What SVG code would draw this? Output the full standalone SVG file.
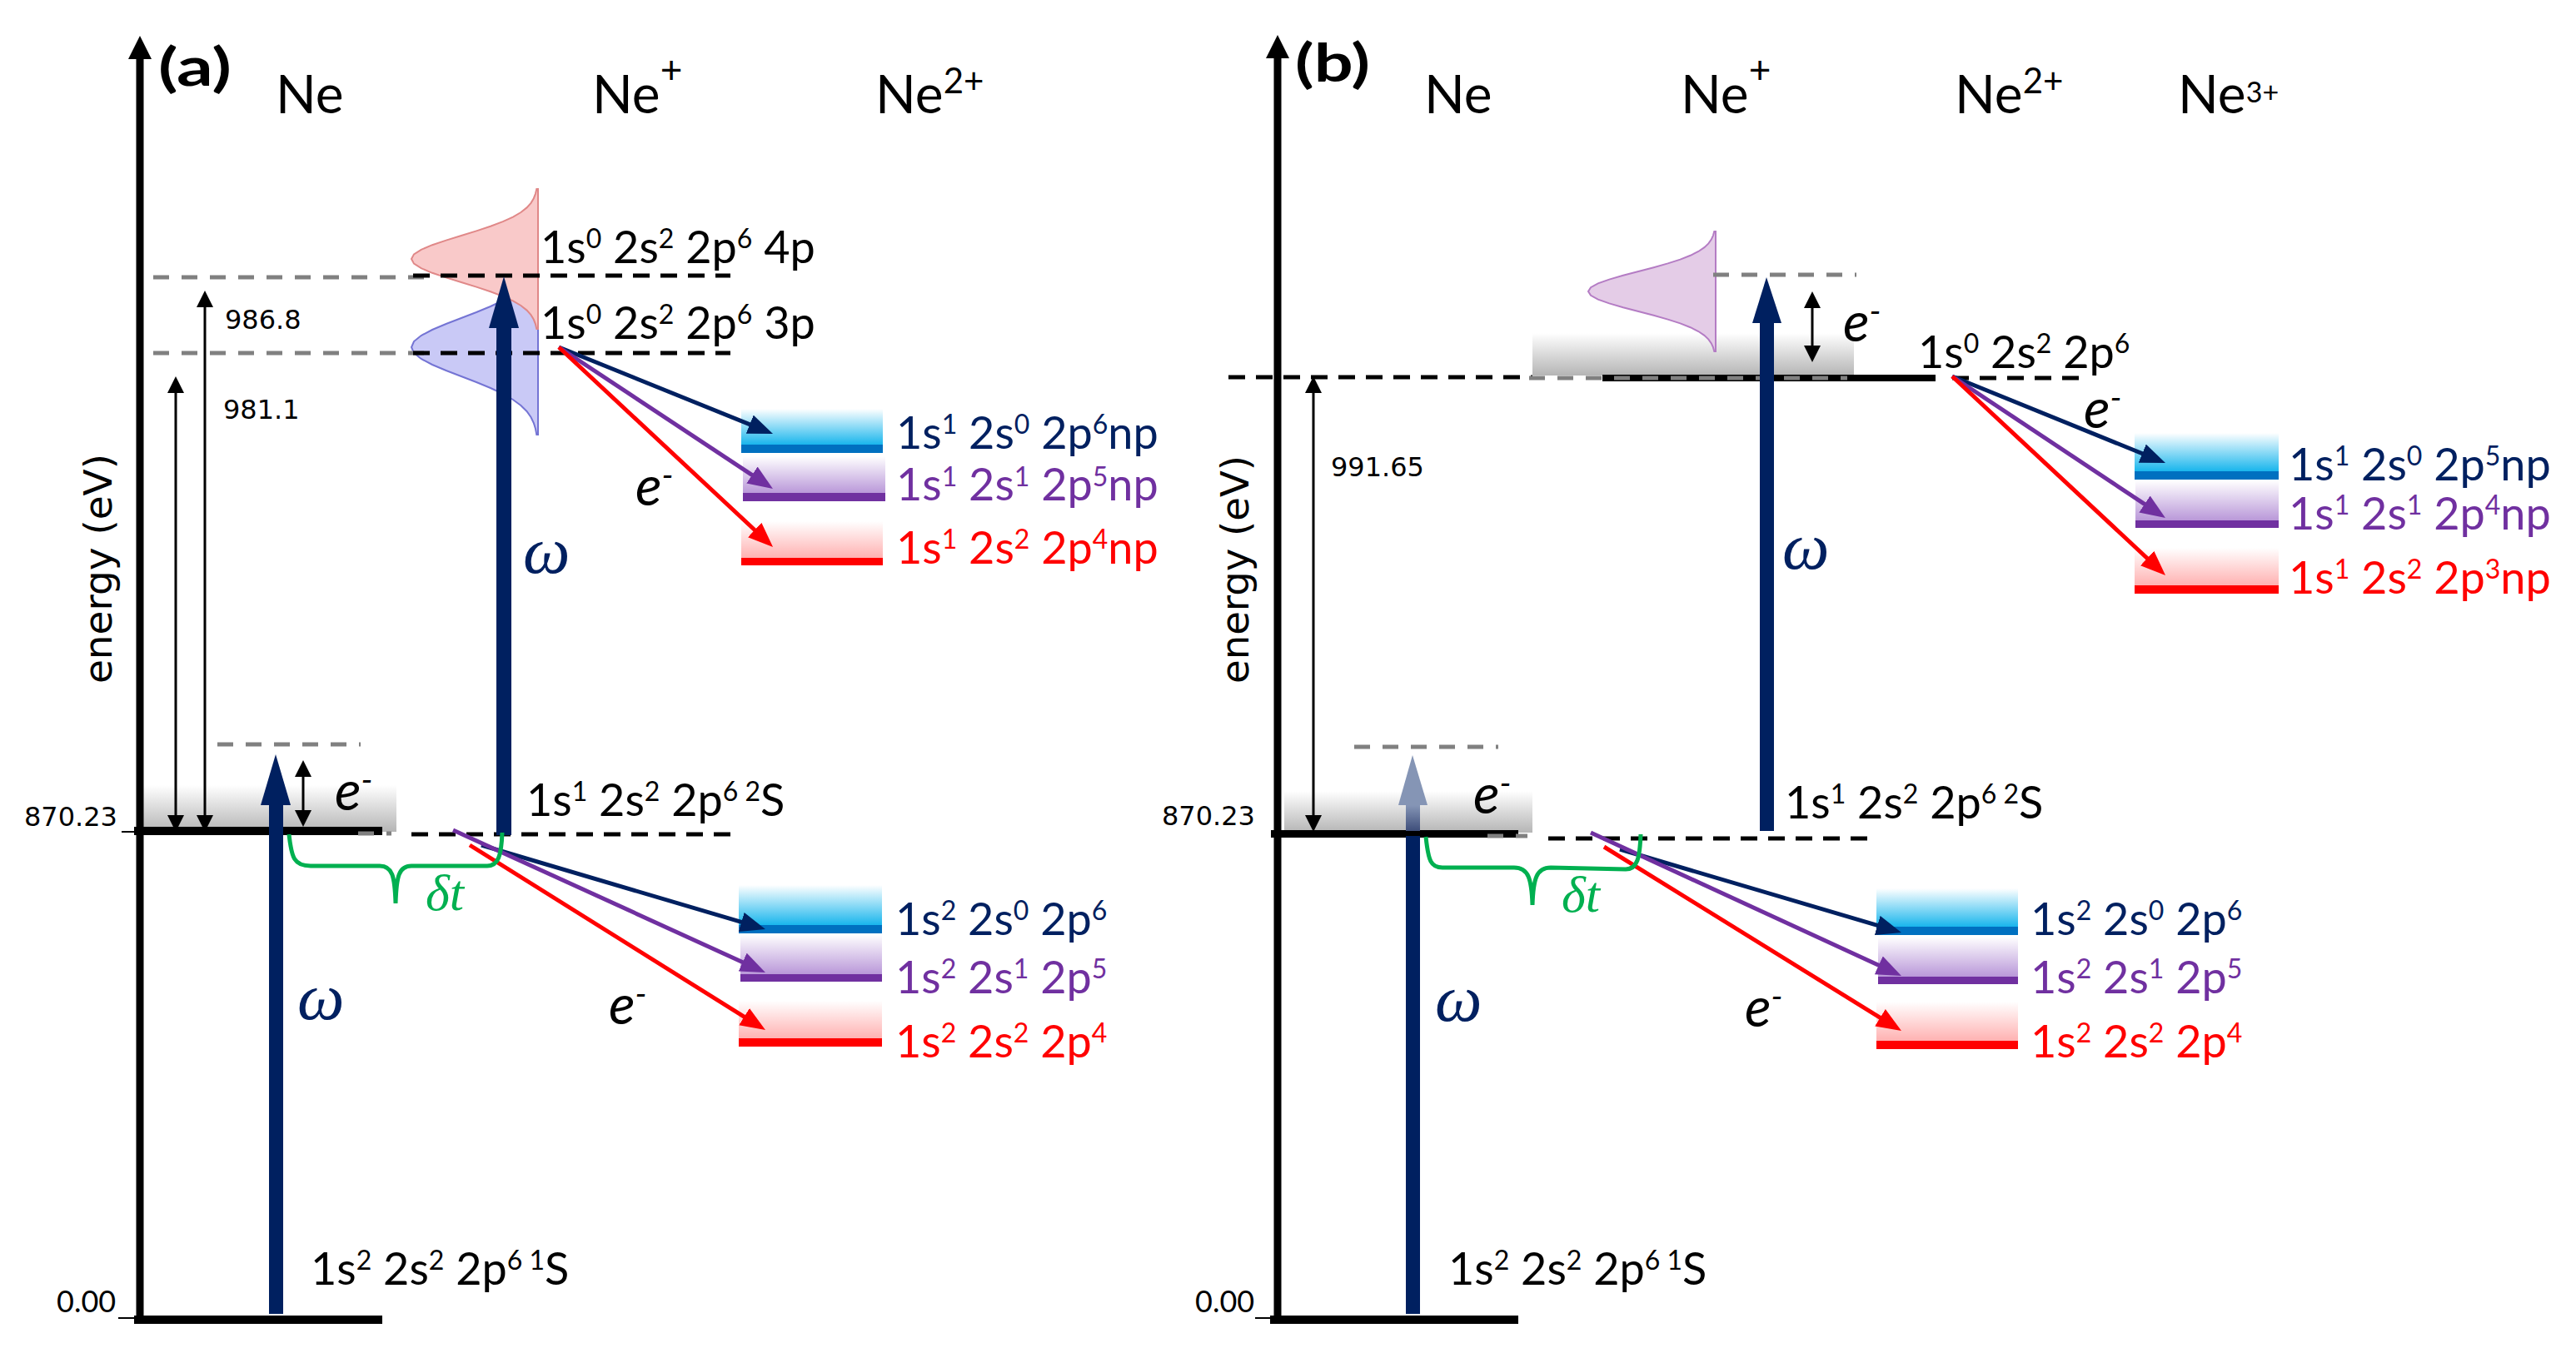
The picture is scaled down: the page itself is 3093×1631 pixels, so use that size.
<svg xmlns="http://www.w3.org/2000/svg" width="3093" height="1631" viewBox="0 0 3093 1631">
<defs>
<style>
.lbl{font-family:Lato,"Open Sans",sans-serif;font-size:54px;fill:#000}
.sp{font-size:32px}
.hdr{font-family:Lato,"Open Sans",sans-serif;font-size:64px;fill:#000}
.num{font-family:"DejaVu Sans",sans-serif;font-size:32px;fill:#000}
.zero{font-family:Lato,sans-serif;font-size:36px;fill:#000}
.ax{font-family:"DejaVu Sans",sans-serif;font-size:46px;fill:#000}
.el{font-family:Lato,sans-serif;font-style:italic;font-size:66px;fill:#000}
.om{font-family:"Liberation Serif",serif;font-style:italic;font-size:80px;fill:#002060}
.dt{font-family:"Liberation Serif",serif;font-style:italic;font-size:62px;fill:#00B050}
.navy{fill:#002060}.pur{fill:#7030A0}.red{fill:#FF0000}
.kd{stroke:#000;stroke-width:5;stroke-dasharray:20 13;fill:none}
.gd{stroke:#808080;stroke-width:5;stroke-dasharray:19 15;fill:none}
.ta{stroke:#000;stroke-width:3;fill:none;marker-start:url(#mk);marker-end:url(#mk)}
.dn{stroke:#002060;stroke-width:5;fill:none;marker-end:url(#mn)}
.dp{stroke:#7030A0;stroke-width:5;fill:none;marker-end:url(#mp)}
.dr{stroke:#FF0000;stroke-width:5;fill:none;marker-end:url(#mr)}
.brace{stroke:#00B050;stroke-width:5;fill:none}
.axis{stroke:#000;stroke-width:9;fill:none}
.bar{fill:#000}
.tick{stroke:#000;stroke-width:2}
.photon{fill:#002060}
</style>
<marker id="mk" markerUnits="userSpaceOnUse" markerWidth="20" markerHeight="20" refX="14" refY="10" orient="auto-start-reverse"><path d="M0,0 L20,10 L0,20 z" fill="#000"/></marker>
<marker id="mn" markerUnits="userSpaceOnUse" markerWidth="30" markerHeight="24" refX="22" refY="12" orient="auto"><path d="M0,0 L30,12 L0,24 z" fill="#002060"/></marker>
<marker id="mp" markerUnits="userSpaceOnUse" markerWidth="30" markerHeight="24" refX="22" refY="12" orient="auto"><path d="M0,0 L30,12 L0,24 z" fill="#7030A0"/></marker>
<marker id="mr" markerUnits="userSpaceOnUse" markerWidth="30" markerHeight="24" refX="22" refY="12" orient="auto"><path d="M0,0 L30,12 L0,24 z" fill="#FF0000"/></marker>
<linearGradient id="gGray" x1="0" y1="0" x2="0" y2="1"><stop offset="0" stop-color="#fff"/><stop offset="1" stop-color="#b5b5b5"/></linearGradient>
<linearGradient id="gBlue" x1="0" y1="0" x2="0" y2="1"><stop offset="0" stop-color="#fff"/><stop offset="1" stop-color="#14B4EC"/></linearGradient>
<linearGradient id="gPur" x1="0" y1="0" x2="0" y2="1"><stop offset="0" stop-color="#fff"/><stop offset="1" stop-color="#B896D8"/></linearGradient>
<linearGradient id="gRed" x1="0" y1="0" x2="0" y2="1"><stop offset="0" stop-color="#fff"/><stop offset="1" stop-color="#FFB0B0"/></linearGradient>
<linearGradient id="gPh" x1="0" y1="0" x2="0" y2="1"><stop offset="0" stop-color="#8A9ABA"/><stop offset="1" stop-color="#3E4E7A"/></linearGradient>
</defs>
<rect width="3093" height="1631" fill="#fff"/>

<!-- ================= PANEL (a) ================= -->
<g id="a-backgrounds">
<rect x="172" y="943" width="304" height="56" fill="url(#gGray)"/>
<path id="a-gauss-blue" transform="translate(646,417) scale(152,35)" vector-effect="non-scaling-stroke" fill="#C9C9F6" stroke="#7474D4" stroke-width="2" d="M0,-3 L-0.0111,-3 L-0.0198,-2.8 L-0.034,-2.6 L-0.0561,-2.4 L-0.0889,-2.2 L-0.1353,-2 L-0.1979,-1.8 L-0.278,-1.6 L-0.3753,-1.4 L-0.4868,-1.2 L-0.6065,-1 L-0.7261,-0.8 L-0.8353,-0.6 L-0.9231,-0.4 L-0.9802,-0.2 L-1,0 L-0.9802,0.2 L-0.9231,0.4 L-0.8353,0.6 L-0.7261,0.8 L-0.6065,1 L-0.4868,1.2 L-0.3753,1.4 L-0.278,1.6 L-0.1979,1.8 L-0.1353,2 L-0.0889,2.2 L-0.0561,2.4 L-0.034,2.6 L-0.0198,2.8 L-0.0111,3 L0,3 Z"/>
<path id="a-gauss-pink" transform="translate(646,311) scale(152,28)" vector-effect="non-scaling-stroke" fill="#F9C9C9" stroke="#E08888" stroke-width="2" d="M0,-3 L-0.0111,-3 L-0.0198,-2.8 L-0.034,-2.6 L-0.0561,-2.4 L-0.0889,-2.2 L-0.1353,-2 L-0.1979,-1.8 L-0.278,-1.6 L-0.3753,-1.4 L-0.4868,-1.2 L-0.6065,-1 L-0.7261,-0.8 L-0.8353,-0.6 L-0.9231,-0.4 L-0.9802,-0.2 L-1,0 L-0.9802,0.2 L-0.9231,0.4 L-0.8353,0.6 L-0.7261,0.8 L-0.6065,1 L-0.4868,1.2 L-0.3753,1.4 L-0.278,1.6 L-0.1979,1.8 L-0.1353,2 L-0.0889,2.2 L-0.0561,2.4 L-0.034,2.6 L-0.0198,2.8 L-0.0111,3 L0,3 Z"/>
</g>

<g id="a-levels">
<line class="gd" x1="184" y1="333" x2="517" y2="333"/>
<line class="gd" x1="184" y1="424" x2="517" y2="424"/>
<line class="kd" x1="496" y1="331" x2="877" y2="331"/>
<line class="kd" x1="496" y1="424" x2="877" y2="424"/>
<line class="gd" x1="261" y1="894" x2="433" y2="894"/>
<rect class="bar" x="161" y="993" width="298" height="10"/>
<line class="gd" x1="430" y1="1001" x2="470" y2="1001"/>
<line class="kd" x1="494" y1="1002" x2="877" y2="1002" stroke-dasharray="6 14 20 13 20 13 20 13 20 13 20 13 20 13 20 13 20 13 20 13 20 13 20 13 20 13"/>
<rect class="bar" x="161" y="1580" width="298" height="10"/>
<line class="tick" x1="146" y1="999" x2="161" y2="999"/>
<line class="tick" x1="142" y1="1583" x2="161" y2="1583"/>
</g>

<g id="a-bands">
<rect x="890" y="491" width="170" height="44" fill="url(#gBlue)"/><rect x="890" y="534" width="170" height="10" fill="#0070C0"/>
<rect x="892" y="548" width="171" height="45" fill="url(#gPur)"/><rect x="892" y="592" width="171" height="10" fill="#7030A0"/>
<rect x="890" y="626" width="170" height="45" fill="url(#gRed)"/><rect x="890" y="670" width="170" height="9" fill="#FF0000"/>
<rect x="887" y="1063" width="172" height="49" fill="url(#gBlue)"/><rect x="887" y="1111" width="172" height="10" fill="#0070C0"/>
<rect x="889" y="1122" width="170" height="49" fill="url(#gPur)"/><rect x="889" y="1170" width="170" height="9" fill="#7030A0"/>
<rect x="887" y="1202" width="172" height="46" fill="url(#gRed)"/><rect x="887" y="1247" width="172" height="10" fill="#FF0000"/>
</g>

<g id="a-axis">
<line class="axis" x1="168" y1="68" x2="168" y2="1582"/>
<path d="M168,43 L182,71 L154,71 Z" fill="#000"/>
</g>

<g id="a-photons">
<rect class="photon" x="323" y="965" width="17" height="613"/>
<path class="photon" d="M331,906 L349,967 L313,967 Z"/>
<rect class="photon" x="596" y="392" width="18" height="611"/>
<path class="photon" d="M605,332 L623,394 L587,394 Z"/>
</g>

<g id="a-connectors">
<line class="ta" x1="246" y1="355" x2="246" y2="993"/>
<line class="ta" x1="211" y1="458" x2="211" y2="993"/>
<line class="ta" x1="364" y1="919" x2="364" y2="987"/>
<line class="dn" x1="671" y1="417" x2="920.6" y2="518"/>
<line class="dp" x1="671" y1="417" x2="921.3" y2="582.6"/>
<line class="dr" x1="671" y1="417" x2="922.2" y2="651.5"/>
<line class="dn" x1="578" y1="1015" x2="911.3" y2="1113.7"/>
<line class="dp" x1="544" y1="997" x2="911.7" y2="1164.7"/>
<line class="dr" x1="564" y1="1015" x2="912.2" y2="1232.8"/>
<path class="brace" d="M347,1002 C350,1030 353,1040 373,1040 L456,1040 C471,1040 474,1052 475,1085 C476,1052 479,1040 494,1040 L585,1040 C598,1040 602,1028 603,1000"/>
</g>

<g id="a-texts">
<text class="hdr" x="190" y="103" font-weight="bold" font-size="80" textLength="88" lengthAdjust="spacingAndGlyphs">(a)</text>
<text class="hdr" x="331" y="136">Ne</text>
<text class="hdr" x="711" y="136">Ne<tspan font-size="46" dy="-36">+</tspan></text>
<text class="hdr" x="1051" y="136">Ne<tspan font-size="42" dy="-24">2+</tspan></text>
<text class="ax" transform="translate(134,683) rotate(-90)" text-anchor="middle" textLength="276" lengthAdjust="spacingAndGlyphs">energy (eV)</text>
<text class="num" x="270" y="395">986.8</text>
<text class="num" x="268" y="503">981.1</text>
<text class="num" x="29" y="992">870.23</text>
<text class="zero" x="68" y="1576">0.00</text>
<text class="lbl" x="649" y="316">1s<tspan class="sp" dy="-18">0</tspan><tspan dy="18"> 2s</tspan><tspan class="sp" dy="-18">2</tspan><tspan dy="18"> 2p</tspan><tspan class="sp" dy="-18">6</tspan><tspan dy="18"> 4p</tspan></text>
<text class="lbl" x="649" y="407">1s<tspan class="sp" dy="-18">0</tspan><tspan dy="18"> 2s</tspan><tspan class="sp" dy="-18">2</tspan><tspan dy="18"> 2p</tspan><tspan class="sp" dy="-18">6</tspan><tspan dy="18"> 3p</tspan></text>
<text class="lbl" x="632" y="980">1s<tspan class="sp" dy="-18">1</tspan><tspan dy="18"> 2s</tspan><tspan class="sp" dy="-18">2</tspan><tspan dy="18"> 2p</tspan><tspan class="sp" dy="-18">6 2</tspan><tspan dy="18">S</tspan></text>
<text class="lbl" x="373" y="1543">1s<tspan class="sp" dy="-18">2</tspan><tspan dy="18"> 2s</tspan><tspan class="sp" dy="-18">2</tspan><tspan dy="18"> 2p</tspan><tspan class="sp" dy="-18">6 1</tspan><tspan dy="18">S</tspan></text>
<text class="lbl navy" x="1076" y="539">1s<tspan class="sp" dy="-18">1</tspan><tspan dy="18"> 2s</tspan><tspan class="sp" dy="-18">0</tspan><tspan dy="18"> 2p</tspan><tspan class="sp" dy="-18">6</tspan><tspan dy="18">np</tspan></text>
<text class="lbl pur" x="1076" y="601">1s<tspan class="sp" dy="-17">1</tspan><tspan dy="17"> 2s</tspan><tspan class="sp" dy="-17">1</tspan><tspan dy="17"> 2p</tspan><tspan class="sp" dy="-17">5</tspan><tspan dy="17">np</tspan></text>
<text class="lbl red" x="1076" y="677">1s<tspan class="sp" dy="-18">1</tspan><tspan dy="18"> 2s</tspan><tspan class="sp" dy="-18">2</tspan><tspan dy="18"> 2p</tspan><tspan class="sp" dy="-18">4</tspan><tspan dy="18">np</tspan></text>
<text class="lbl navy" x="1075" y="1123">1s<tspan class="sp" dy="-18">2</tspan><tspan dy="18"> 2s</tspan><tspan class="sp" dy="-18">0</tspan><tspan dy="18"> 2p</tspan><tspan class="sp" dy="-18">6</tspan></text>
<text class="lbl pur" x="1075" y="1193">1s<tspan class="sp" dy="-18">2</tspan><tspan dy="18"> 2s</tspan><tspan class="sp" dy="-18">1</tspan><tspan dy="18"> 2p</tspan><tspan class="sp" dy="-18">5</tspan></text>
<text class="lbl red" x="1075" y="1270">1s<tspan class="sp" dy="-18">2</tspan><tspan dy="18"> 2s</tspan><tspan class="sp" dy="-18">2</tspan><tspan dy="18"> 2p</tspan><tspan class="sp" dy="-18">4</tspan></text>
<text class="el" x="402" y="973">e<tspan font-size="40" dy="-22">-</tspan></text>
<text class="el" x="763" y="607">e<tspan font-size="40" dy="-22">-</tspan></text>
<text class="el" x="731" y="1230">e<tspan font-size="40" dy="-22">-</tspan></text>
<text class="om" x="628" y="688">ω</text>
<text class="om" x="357" y="1224">ω</text>
<text class="dt" x="511" y="1093">δt</text>
</g>

<!-- ================= PANEL (b) ================= -->
<g id="b-backgrounds">
<rect x="1542" y="950" width="298" height="50" fill="url(#gGray)"/>
<rect x="1840" y="400" width="386" height="51" fill="url(#gGray)"/>
<path id="b-gauss" transform="translate(2060,350) scale(153,24)" vector-effect="non-scaling-stroke" fill="#E4CCE7" stroke="#B47CC4" stroke-width="2" d="M0,-3 L-0.0111,-3 L-0.0198,-2.8 L-0.034,-2.6 L-0.0561,-2.4 L-0.0889,-2.2 L-0.1353,-2 L-0.1979,-1.8 L-0.278,-1.6 L-0.3753,-1.4 L-0.4868,-1.2 L-0.6065,-1 L-0.7261,-0.8 L-0.8353,-0.6 L-0.9231,-0.4 L-0.9802,-0.2 L-1,0 L-0.9802,0.2 L-0.9231,0.4 L-0.8353,0.6 L-0.7261,0.8 L-0.6065,1 L-0.4868,1.2 L-0.3753,1.4 L-0.278,1.6 L-0.1979,1.8 L-0.1353,2 L-0.0889,2.2 L-0.0561,2.4 L-0.034,2.6 L-0.0198,2.8 L-0.0111,3 L0,3 Z"/>
</g>

<g id="b-levels">
<line class="kd" x1="1475" y1="453" x2="1840" y2="453"/>
<rect class="bar" x="1924" y="450" width="400" height="8"/>
<line class="gd" x1="1836" y1="454" x2="2218" y2="454"/>
<line class="kd" x1="2344" y1="454" x2="2498" y2="454"/>
<line class="gd" x1="2057" y1="330" x2="2229" y2="330"/>
<line class="gd" x1="1626" y1="897" x2="1799" y2="897"/>
<rect class="bar" x="1526" y="997" width="297" height="9"/>
<line class="gd" x1="1786" y1="1004" x2="1834" y2="1004"/>
<line class="kd" x1="1859" y1="1007" x2="2242" y2="1007" stroke-dasharray="6 14 20 13 20 13 20 13 20 13 20 13 20 13 20 13 20 13 20 13 20 13 20 13 20 13"/>
<rect class="bar" x="1525" y="1580" width="298" height="10"/>
<line class="tick" x1="1507" y1="1583" x2="1525" y2="1583"/>
</g>

<g id="b-bands">
<rect x="2563" y="520" width="173" height="47" fill="url(#gBlue)"/><rect x="2563" y="566" width="173" height="10" fill="#0070C0"/>
<rect x="2564" y="577" width="172" height="49" fill="url(#gPur)"/><rect x="2564" y="625" width="172" height="9" fill="#7030A0"/>
<rect x="2563" y="658" width="173" height="46" fill="url(#gRed)"/><rect x="2563" y="703" width="173" height="10" fill="#FF0000"/>
<rect x="2253" y="1067" width="170" height="47" fill="url(#gBlue)"/><rect x="2253" y="1113" width="170" height="10" fill="#0070C0"/>
<rect x="2255" y="1125" width="168" height="49" fill="url(#gPur)"/><rect x="2255" y="1173" width="168" height="9" fill="#7030A0"/>
<rect x="2253" y="1203" width="170" height="48" fill="url(#gRed)"/><rect x="2253" y="1250" width="170" height="10" fill="#FF0000"/>
</g>

<g id="b-axis">
<line class="axis" x1="1534" y1="68" x2="1534" y2="1582"/>
<path d="M1534,42 L1548,70 L1520,70 Z" fill="#000"/>
</g>

<g id="b-photons">
<rect class="photon" x="1688" y="1004" width="17" height="574"/>
<rect x="1688" y="965" width="17" height="33" fill="url(#gPh)"/>
<path d="M1696,907 L1714,967 L1679,967 Z" fill="#8595B5"/>
<rect class="photon" x="2113" y="386" width="17" height="612"/>
<path class="photon" d="M2121,333 L2139,388 L2104,388 Z"/>
</g>

<g id="b-connectors">
<line class="ta" x1="1577" y1="458" x2="1577" y2="993"/>
<line class="ta" x1="2176" y1="356" x2="2176" y2="429"/>
<line class="dn" x1="2344" y1="452" x2="2592.6" y2="553"/>
<line class="dp" x1="2344" y1="452" x2="2593.3" y2="617.6"/>
<line class="dr" x1="2344" y1="452" x2="2594.2" y2="685.5"/>
<line class="dn" x1="1945" y1="1020" x2="2275.3" y2="1117.7"/>
<line class="dp" x1="1910" y1="1000" x2="2275.7" y2="1168.6"/>
<line class="dr" x1="1926" y1="1017" x2="2276.2" y2="1233.8"/>
<path class="brace" d="M1712,1005 C1715,1034 1718,1042 1732,1042 L1818,1042 C1835,1042 1839,1055 1840,1087 C1841,1055 1845,1042 1862,1042 L1952,1044 C1966,1044 1969,1030 1970,1002"/>
</g>

<g id="b-texts">
<text class="hdr" x="1555" y="98" font-weight="bold" font-size="80" textLength="90" lengthAdjust="spacingAndGlyphs">(b)</text>
<text class="hdr" x="1710" y="136">Ne</text>
<text class="hdr" x="2018" y="136">Ne<tspan font-size="46" dy="-36">+</tspan></text>
<text class="hdr" x="2347" y="136">Ne<tspan font-size="42" dy="-24">2+</tspan></text>
<text class="hdr" x="2615" y="136">Ne<tspan font-size="34" dy="-13">3+</tspan></text>
<text class="ax" transform="translate(1499,684) rotate(-90)" text-anchor="middle" textLength="274" lengthAdjust="spacingAndGlyphs">energy (eV)</text>
<text class="num" x="1598" y="572">991.65</text>
<text class="num" x="1395" y="991">870.23</text>
<text class="zero" x="1435" y="1576">0.00</text>
<text class="lbl" x="2303" y="442">1s<tspan class="sp" dy="-18">0</tspan><tspan dy="18"> 2s</tspan><tspan class="sp" dy="-18">2</tspan><tspan dy="18"> 2p</tspan><tspan class="sp" dy="-18">6</tspan></text>
<text class="lbl" x="2143" y="983">1s<tspan class="sp" dy="-18">1</tspan><tspan dy="18"> 2s</tspan><tspan class="sp" dy="-18">2</tspan><tspan dy="18"> 2p</tspan><tspan class="sp" dy="-18">6 2</tspan><tspan dy="18">S</tspan></text>
<text class="lbl" x="1739" y="1543">1s<tspan class="sp" dy="-18">2</tspan><tspan dy="18"> 2s</tspan><tspan class="sp" dy="-18">2</tspan><tspan dy="18"> 2p</tspan><tspan class="sp" dy="-18">6 1</tspan><tspan dy="18">S</tspan></text>
<text class="lbl navy" x="2748" y="577">1s<tspan class="sp" dy="-18">1</tspan><tspan dy="18"> 2s</tspan><tspan class="sp" dy="-18">0</tspan><tspan dy="18"> 2p</tspan><tspan class="sp" dy="-18">5</tspan><tspan dy="18">np</tspan></text>
<text class="lbl pur" x="2748" y="636">1s<tspan class="sp" dy="-18">1</tspan><tspan dy="18"> 2s</tspan><tspan class="sp" dy="-18">1</tspan><tspan dy="18"> 2p</tspan><tspan class="sp" dy="-18">4</tspan><tspan dy="18">np</tspan></text>
<text class="lbl red" x="2748" y="713">1s<tspan class="sp" dy="-18">1</tspan><tspan dy="18"> 2s</tspan><tspan class="sp" dy="-18">2</tspan><tspan dy="18"> 2p</tspan><tspan class="sp" dy="-18">3</tspan><tspan dy="18">np</tspan></text>
<text class="lbl navy" x="2438" y="1123">1s<tspan class="sp" dy="-18">2</tspan><tspan dy="18"> 2s</tspan><tspan class="sp" dy="-18">0</tspan><tspan dy="18"> 2p</tspan><tspan class="sp" dy="-18">6</tspan></text>
<text class="lbl pur" x="2438" y="1193">1s<tspan class="sp" dy="-18">2</tspan><tspan dy="18"> 2s</tspan><tspan class="sp" dy="-18">1</tspan><tspan dy="18"> 2p</tspan><tspan class="sp" dy="-18">5</tspan></text>
<text class="lbl red" x="2438" y="1270">1s<tspan class="sp" dy="-18">2</tspan><tspan dy="18"> 2s</tspan><tspan class="sp" dy="-18">2</tspan><tspan dy="18"> 2p</tspan><tspan class="sp" dy="-18">4</tspan></text>
<text class="el" x="1769" y="977">e<tspan font-size="40" dy="-22">-</tspan></text>
<text class="el" x="2095" y="1233">e<tspan font-size="40" dy="-22">-</tspan></text>
<text class="el" x="2213" y="410">e<tspan font-size="40" dy="-22">-</tspan></text>
<text class="el" x="2502" y="514">e<tspan font-size="40" dy="-22">-</tspan></text>
<text class="om" x="2140" y="683">ω</text>
<text class="om" x="1723" y="1226">ω</text>
<text class="dt" x="1875" y="1095">δt</text>
</g>
</svg>
